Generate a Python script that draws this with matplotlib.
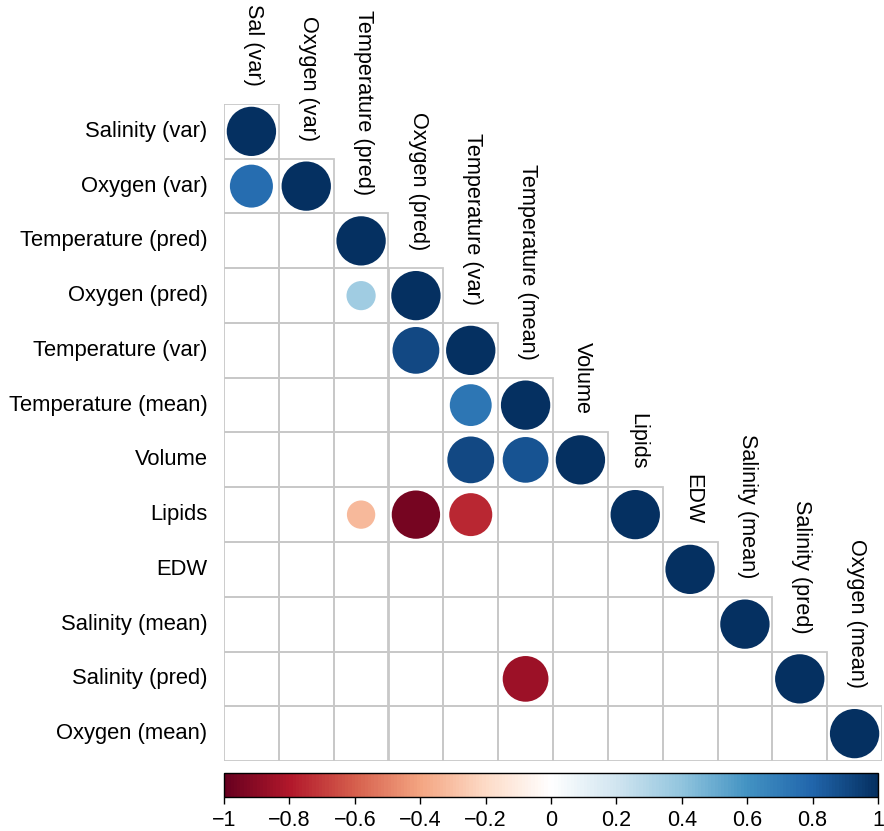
import numpy as np
import matplotlib.pyplot as plt
from matplotlib.colors import LinearSegmentedColormap
from matplotlib.patches import Circle, Rectangle
from matplotlib.cm import ScalarMappable
from matplotlib.colors import Normalize

plt.rcParams['font.family'] = ['Liberation Sans', 'DejaVu Sans']

row_labels = ['Salinity (var)', 'Oxygen (var)', 'Temperature (pred)', 'Oxygen (pred)',
              'Temperature (var)', 'Temperature (mean)', 'Volume', 'Lipids', 'EDW',
              'Salinity (mean)', 'Salinity (pred)', 'Oxygen (mean)']
col_labels = ['Sal (var)', 'Oxygen (var)', 'Temperature (pred)', 'Oxygen (pred)',
              'Temperature (var)', 'Temperature (mean)', 'Volume', 'Lipids', 'EDW',
              'Salinity (mean)', 'Salinity (pred)', 'Oxygen (mean)']

# lower triangle, None = not shown
corr = [
    [1],
    [0.76, 1],
    [None, None, 1],
    [None, None, 0.35, 1],
    [None, None, None, 0.90, 1],
    [None, None, None, None, 0.72, 1],
    [None, None, None, None, 0.90, 0.86, 1],
    [None, None, -0.33, -0.96, -0.76, None, None, 1],
    [None, None, None, None, None, None, None, None, 1],
    [None, None, None, None, None, None, None, None, None, 1],
    [None, None, None, None, None, -0.86, None, None, None, None, 1],
    [None, None, None, None, None, None, None, None, None, None, None, 1],
]

cbar_ticks = np.round(np.arange(-1, 1.01, 0.2), 1)

rdbu = ["#67001F", "#B2182B", "#D6604D", "#F4A582", "#FDDBC7", "#FFFFFF",
        "#D1E5F0", "#92C5DE", "#4393C3", "#2166AC", "#053061"]
cmap = LinearSegmentedColormap.from_list('corr', rdbu, N=200)
norm = Normalize(-1, 1)

W, H = 884, 831
fig = plt.figure(figsize=(W / 100, H / 100), dpi=100)
n = len(row_labels)

ax = fig.add_axes([224 / W, 1 - 761 / H, 658 / W, 657 / H])
ax.set_xlim(0, n)
ax.set_ylim(n, 0)
ax.axis('off')

for i, row in enumerate(corr):
    for j, v in enumerate(row):
        ax.add_patch(Rectangle((j, i), 1, 1, facecolor='none', edgecolor='#c8c8c8',
                               linewidth=1.3, zorder=1))
        if v is not None:
            ax.add_patch(Circle((j + 0.5, i + 0.5), 0.45 * np.sqrt(abs(v)),
                                facecolor=cmap(norm(v)), edgecolor='none', zorder=2))

for i, lab in enumerate(row_labels):
    ax.text(-0.3, i + 0.5, lab, ha='right', va='center', fontsize=15.8)
for j, lab in enumerate(col_labels):
    ax.text(j + 0.54, j - 0.33, lab, ha='center', va='bottom',
            rotation=270, fontsize=15.6)

cax = fig.add_axes([224 / W, 1 - 797 / H, 654 / W, 24 / H])
sm = ScalarMappable(norm=norm, cmap=cmap)
cb = fig.colorbar(sm, cax=cax, orientation='horizontal', ticks=cbar_ticks)
cb.outline.set_linewidth(1.0)
cb.ax.tick_params(direction='out', length=5, width=1, labelsize=15.5, pad=4)
cb.ax.set_xticklabels([('%g' % t).replace('-', '\u2212') if t != 0 else '0' for t in cbar_ticks])

fig.savefig('out.png', dpi=100)
